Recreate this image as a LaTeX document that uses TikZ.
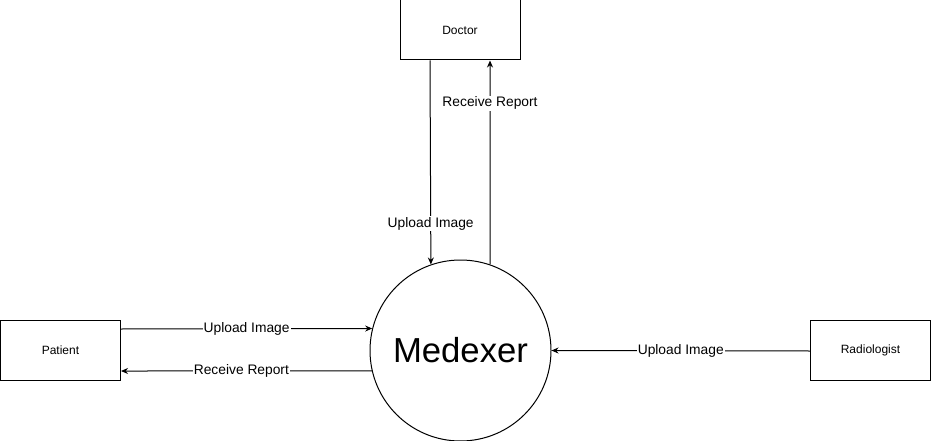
\documentclass[tikz,border=0pt]{standalone}
\usepackage{fontspec}
\setmainfont{Liberation Sans}
\usetikzlibrary{arrows.meta}
\begin{document}
\begin{tikzpicture}[x=1pt,y=-1pt,line width=1pt,
	entity/.style={draw,minimum width=120pt,minimum height=60pt,inner sep=0pt,font=\fontsize{12}{14}\selectfont},
	process/.style={draw,circle,minimum size=181pt,inner sep=0pt,font=\fontsize{34.7}{40}\selectfont},
	flow/.style={-{Stealth[length=7pt,width=6pt]}},
	lbl/.style={fill=white,inner sep=1pt,font=\fontsize{13.8}{16}\selectfont}]
	\useasboundingbox (0,0) rectangle (931,441);
	% External entities
	\node[entity] (doctor) at (460,30) {Doctor};
	\node[entity] (patient) at (60.5,350) {Patient};
	\node[entity] (radiologist) at (870.5,350) {Radiologist};
	% The system
	\node[process] (medexer) at (460.5,350.5) {Medexer};
	% Data flows
	\draw[flow] ([xshift=-30pt]doctor.south) -- node[lbl,pos=0.8] {Upload Image} (medexer.109.7);
	\draw[flow] (medexer.71) -- node[lbl,pos=0.79] {Receive Report} ([xshift=30pt]doctor.south);
	\draw[flow] ([yshift=21pt]patient.east) -- node[lbl,pos=0.5] {Upload Image} (medexer.166.3);
	\draw[flow] (medexer.193.1) -- node[lbl,pos=0.52] {Receive Report} ([yshift=-21pt]patient.east);
	\draw[flow] ([yshift=-1pt]radiologist.west) -- node[lbl,pos=0.5] {Upload Image} (medexer.-0.6);
\end{tikzpicture}
\end{document}
